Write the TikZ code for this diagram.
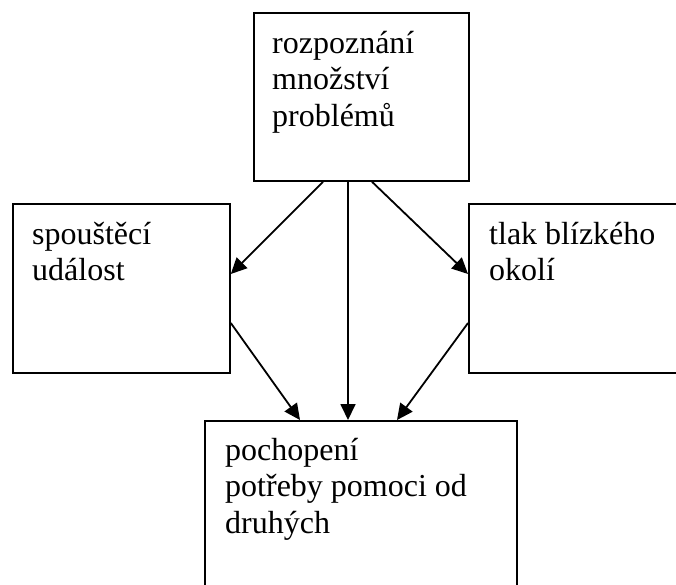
\documentclass[tikz,border=0pt]{standalone}
\usepackage{fontspec}
\setmainfont{Liberation Serif}
\usetikzlibrary{arrows.meta,calc}
\begin{document}
\begin{tikzpicture}[x=1pt,y=-1pt,
  box/.style={draw, line width=1.8pt, rectangle, inner sep=0pt, anchor=north west},
  lbl/.style={anchor=base west, inner sep=0pt, font=\fontsize{32}{36.5}\selectfont},
  link/.style={line width=1.8pt, -{Triangle[length=16pt,width=15pt]}}]
  \useasboundingbox (0,0) rectangle (676,584);
  \clip (0,0) rectangle (676,584);

  % boxes
  \node[box, minimum width=215pt, minimum height=168pt] (top) at (253,12) {};
  \node[box, minimum width=217pt, minimum height=169pt] (left) at (12,203) {};
  \node[box, minimum width=240pt, minimum height=169pt] (right) at (468,203) {};
  \node[box, minimum width=312pt, minimum height=190pt] (bottom) at (204,420) {};

  % labels
  \node[lbl] (ttop) at (272,53) {\parbox[t]{200pt}{\raggedright rozpoznání\\množství\\problémů}};
  \node[lbl] (tleft) at (32,244) {\parbox[t]{200pt}{\raggedright spouštěcí\\událost}};
  \node[lbl] (tright) at (489,244) {\parbox[t]{200pt}{\raggedright tlak blízkého\\okolí}};
  \node[lbl] (tbottom) at (225,460) {\parbox[t]{290pt}{\raggedright pochopení\\potřeby pomoci od\\druhých}};

  % connectors
  \draw[link] ($(top.south west)+(70,0)$) -- ($(left.north east)+(0,71)$);
  \draw[link] ($(top.south west)+(95,0)$) -- ($(bottom.north west)+(144,0)$);
  \draw[link] ($(top.south west)+(119,0)$) -- ($(right.north west)+(0,71)$);
  \draw[link] ($(left.north east)+(0,120)$) -- ($(bottom.north west)+(96,0)$);
  \draw[link] ($(right.north west)+(0,120)$) -- ($(bottom.north west)+(193,0)$);
\end{tikzpicture}
\end{document}
